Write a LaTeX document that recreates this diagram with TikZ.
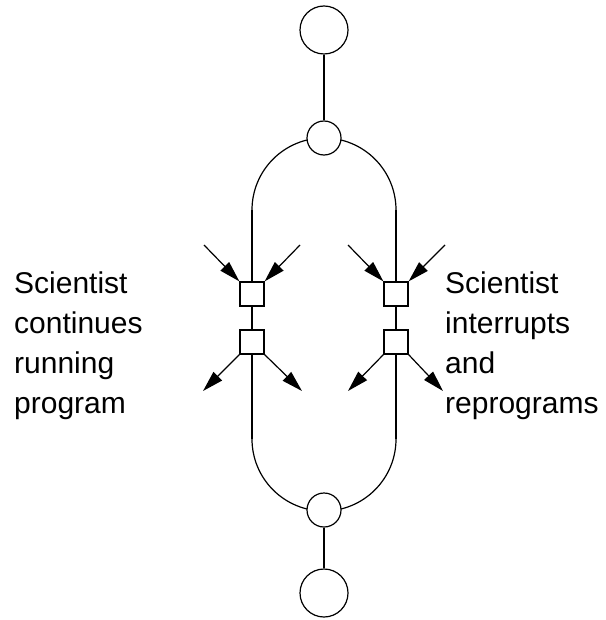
\documentclass[tikz,border=0pt]{standalone}
\usepackage{fontspec}
\setmainfont{Liberation Sans}
\usetikzlibrary{arrows.meta,backgrounds}
\begin{document}
\begin{tikzpicture}[x=1pt,y=-1pt,
  bigc/.style={circle,draw,line width=1.2pt,fill=white,minimum size=48pt,inner sep=0pt},
  smallc/.style={circle,draw,line width=1.2pt,fill=white,minimum size=34pt,inner sep=0pt},
  box/.style={rectangle,draw,line width=1.2pt,fill=white,minimum size=24pt,inner sep=0pt},
  wire/.style={line width=1.2pt,draw=black},
  arr/.style={wire,-{Triangle[length=21pt,width=12pt]}},
  lbl/.style={align=left,anchor=north west,inner sep=0pt,font=\fontsize{30}{40}\selectfont}]
\useasboundingbox (0,0) rectangle (605,620);
\node[bigc] (T) at (324,30) {};
\node[smallc] (A) at (324,138) {};
\node[smallc] (B) at (324,510) {};
\node[bigc] (Bb) at (324,593) {};
\node[box] (L1) at (252,294) {};
\node[box] (L2) at (252,342) {};
\node[box] (R1) at (396,294) {};
\node[box] (R2) at (396,342) {};
\coordinate (lt) at (252,210);
\coordinate (rt) at (396,210);
\coordinate (lb) at (252,439);
\coordinate (rb) at (396,439);
\begin{scope}[on background layer]
\draw[wire] (T) -- (A);
\draw[wire] (B) -- (Bb);
\draw[wire] (lt) arc[start angle=180,end angle=270,radius=72];
\draw[wire] (rt) arc[start angle=0,end angle=-90,radius=72];
\draw[wire] (lb) arc[start angle=180,end angle=90,radius=72];
\draw[wire] (rb) arc[start angle=0,end angle=90,radius=72];
\draw[wire] (lt) -- (L1);
\draw[wire] (L1) -- (L2);
\draw[wire] (L2) -- (lb);
\draw[wire] (rt) -- (R1);
\draw[wire] (R1) -- (R2);
\draw[wire] (R2) -- (rb);
\end{scope}
\coordinate (i1) at (204,245);
\coordinate (i2) at (300,245);
\coordinate (o1) at (203,391);
\coordinate (o2) at (302,391);
\coordinate (i3) at (348,245);
\coordinate (i4) at (445,245);
\coordinate (o3) at (348,391);
\coordinate (o4) at (443,391);
\draw[arr] (i1) -- (L1.north west);
\draw[arr] (i2) -- (L1.north east);
\draw[arr] (L2.south west) -- (o1);
\draw[arr] (L2.south east) -- (o2);
\draw[arr] (i3) -- (R1.north west);
\draw[arr] (i4) -- (R1.north east);
\draw[arr] (R2.south west) -- (o3);
\draw[arr] (R2.south east) -- (o4);
\node[lbl] (tl) at (14,272) {Scientist\\continues\\running\\program};
\node[lbl] (tr) at (445,272) {Scientist\\interrupts\\and\\reprograms};
\end{tikzpicture}
\end{document}
